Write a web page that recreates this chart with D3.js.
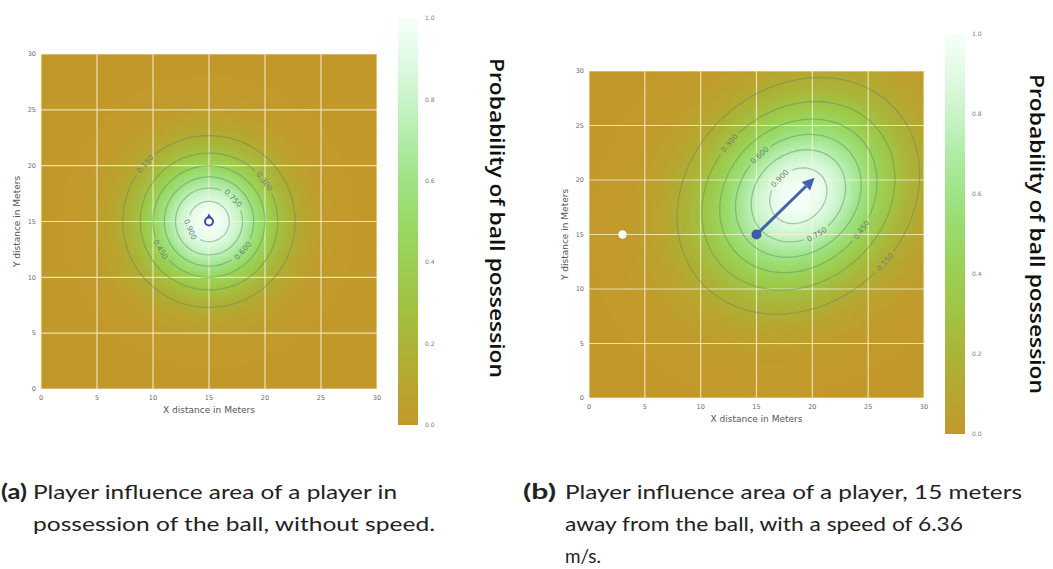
<!DOCTYPE html>
<html>
<head>
<meta charset="utf-8">
<script src="https://cdn.jsdelivr.net/npm/d3@7"></script>
<style>
  body { margin: 0; background: #ffffff; }
  svg { display: block; }
</style>
</head>
<body>
<svg id="fig" width="1053" height="569"></svg>
<script>
// ---- shared values ----
const axisTicks = [0, 5, 10, 15, 20, 25, 30];
const colorbarTicks = [0.0, 0.2, 0.4, 0.6, 0.8, 1.0];
const contourLevels = [0.15, 0.30, 0.45, 0.60, 0.75, 0.90];
const colorStops = [0.0, 0.1, 0.2, 0.3, 0.4, 0.5, 0.6, 0.7, 0.8, 0.9, 1.0];
const colorValues = ["#c3982b", "#b7a630", "#aab438", "#a1c343", "#9bcf52",
                     "#99da68", "#9fe284", "#b0eca6", "#c9f4c8", "#e2fae4", "#f6fff9"];

// ---- panel (a): player in possession, no speed ----
const playerA = [15, 15];
const meanA = [15, 15];
const sigmaA = [3.95, 3.95];
const tiltA = 0;
const labelAnglesA = [138, 36, 210, 319, 44, 203];   // one per contour level

// ---- panel (b): player 12 m from the ball, running diagonally ----
const playerB = [15, 15];
const arrowEndB = [20.2, 20.2];
const ballB = [3, 15];
const meanB = [18.75, 18.55];
const sigmaB = [6.05, 5.05];
const tiltB = 45;
const labelAnglesB = [322, 142, 331, 133, 295, 136];

const captionA = ["Player influence area of a player in", "possession of the ball, without speed."];
const captionB = ["Player influence area of a player, 15 meters", "away from the ball, with a speed of 6.36", "m/s."];
const colorbarTitle = "Probability of ball possession";

const svg = d3.select("#fig");
const defs = svg.append("defs");

const color = d3.scaleLinear().domain(colorStops).range(colorValues)
  .interpolate(d3.interpolateRgb).clamp(true);

// Bivariate normal influence surface, scaled to 1 at its mean
function influence(mean, sigma, tiltDeg) {
  const t = tiltDeg * Math.PI / 180, c = Math.cos(t), s = Math.sin(t);
  return (x, y) => {
    const dx = x - mean[0], dy = y - mean[1];
    const u = dx * c + dy * s, v = -dx * s + dy * c;
    return Math.exp(-0.5 * (u * u / (sigma[0] * sigma[0]) + v * v / (sigma[1] * sigma[1])));
  };
}

// point on a contour level along a direction from the mean
function contourPoint(mean, sigma, tiltDeg, level, angDeg) {
  const a = angDeg * Math.PI / 180, t = tiltDeg * Math.PI / 180;
  const ux = Math.cos(a), uy = Math.sin(a);
  const u = ux * Math.cos(t) + uy * Math.sin(t), v = -ux * Math.sin(t) + uy * Math.cos(t);
  const m = u * u / (sigma[0] * sigma[0]) + v * v / (sigma[1] * sigma[1]);
  const r = Math.sqrt(-2 * Math.log(level) / m);
  return [mean[0] + r * ux, mean[1] + r * uy];
}

function drawPanel(cfg) {
  const x = d3.scaleLinear().domain([0, 30]).range([cfg.left, cfg.right]);
  const y = d3.scaleLinear().domain([0, 30]).range([cfg.bottom, cfg.top]);
  const f = influence(cfg.mean, cfg.sigma, cfg.tilt);
  const g = svg.append("g");

  const clipId = cfg.id + "-clip";
  defs.append("clipPath").attr("id", clipId).append("rect")
    .attr("x", cfg.left).attr("y", cfg.top)
    .attr("width", cfg.right - cfg.left).attr("height", cfg.bottom - cfg.top);

  // heat map cells
  const n = 120, step = 30 / n;
  const cells = [];
  const values = new Float64Array(n * n);
  for (let j = 0; j < n; j++) {
    for (let i = 0; i < n; i++) {
      const v = f((i + 0.5) * step, (j + 0.5) * step);
      values[i + j * n] = v;
      cells.push({ i, j, v });
    }
  }
  const cw = x(step) - x(0), ch = y(0) - y(step);
  g.append("g").attr("clip-path", `url(#${clipId})`)
    .selectAll("rect").data(cells).join("rect")
    .attr("x", d => x(d.i * step))
    .attr("y", d => y((d.j + 1) * step))
    .attr("width", cw + 0.6).attr("height", ch + 0.6)
    .attr("fill", d => color(d.v))
    .attr("shape-rendering", "crispEdges");

  // grid
  const grid = g.append("g").attr("stroke", "#fbf5d8").attr("stroke-opacity", 0.75)
    .attr("stroke-width", 1.2);
  grid.selectAll("line.v").data(axisTicks).join("line").attr("class", "v")
    .attr("x1", d => x(d)).attr("x2", d => x(d)).attr("y1", cfg.top).attr("y2", cfg.bottom);
  grid.selectAll("line.h").data(axisTicks).join("line").attr("class", "h")
    .attr("y1", d => y(d)).attr("y2", d => y(d)).attr("x1", cfg.left).attr("x2", cfg.right);

  // contour label placement
  const labels = contourLevels.map((lv, k) => {
    const ang = cfg.labelAngles[k];
    const p = contourPoint(cfg.mean, cfg.sigma, cfg.tilt, lv, ang);
    const p1 = contourPoint(cfg.mean, cfg.sigma, cfg.tilt, lv, ang - 1);
    const p2 = contourPoint(cfg.mean, cfg.sigma, cfg.tilt, lv, ang + 1);
    let rot = Math.atan2(y(p2[1]) - y(p1[1]), x(p2[0]) - x(p1[0])) * 180 / Math.PI;
    if (rot > 90) rot -= 180;
    if (rot <= -90) rot += 180;
    return { lv, px: x(p[0]), py: y(p[1]), rot };
  });

  const maskId = cfg.id + "-mask";
  const mask = defs.append("mask").attr("id", maskId)
    .attr("maskUnits", "userSpaceOnUse")
    .attr("x", 0).attr("y", 0).attr("width", 1053).attr("height", 569);
  mask.append("rect").attr("width", 1053).attr("height", 569).attr("fill", "#fff");
  mask.selectAll("rect.gap").data(labels).join("rect").attr("class", "gap")
    .attr("x", -14).attr("y", -5).attr("width", 28).attr("height", 10).attr("fill", "#000")
    .attr("transform", d => `translate(${d.px},${d.py}) rotate(${d.rot})`);

  // contour lines
  const contours = d3.contours().size([n, n]).thresholds(contourLevels)(values);
  const proj = d3.geoTransform({
    point(px, py) { this.stream.point(x(px * step), y(py * step)); }
  });
  const path = d3.geoPath(proj);
  g.append("g").attr("clip-path", `url(#${clipId})`)
    .append("g").attr("mask", `url(#${maskId})`)
    .selectAll("path").data(contours).join("path")
    .attr("d", path)
    .attr("fill", "none")
    .attr("stroke", "#5a8a60").attr("stroke-opacity", 0.45)
    .attr("stroke-width", 1.3);

  g.append("g").selectAll("text").data(labels).join("text")
    .attr("transform", d => `translate(${d.px},${d.py}) rotate(${d.rot})`)
    .attr("text-anchor", "middle").attr("dy", "0.35em")
    .attr("font-family", "DejaVu Sans, sans-serif").attr("font-size", 7.5)
    .attr("fill", "#6a7d70")
    .text(d => d.lv.toFixed(3));

  // tick labels
  const tickFont = { fam: "DejaVu Sans, sans-serif", size: 6.5, fill: "#6a6a6a" };
  g.append("g").selectAll("text").data(axisTicks).join("text")
    .attr("x", d => x(d)).attr("y", cfg.bottom + 11)
    .attr("text-anchor", "middle")
    .attr("font-family", tickFont.fam).attr("font-size", tickFont.size).attr("fill", tickFont.fill)
    .text(d => d);
  g.append("g").selectAll("text").data(axisTicks).join("text")
    .attr("x", cfg.left - 5).attr("y", d => y(d)).attr("dy", "0.35em")
    .attr("text-anchor", "end")
    .attr("font-family", tickFont.fam).attr("font-size", tickFont.size).attr("fill", tickFont.fill)
    .text(d => d);

  // axis titles
  g.append("text")
    .attr("x", (cfg.left + cfg.right) / 2).attr("y", cfg.bottom + 24)
    .attr("text-anchor", "middle")
    .attr("font-family", "DejaVu Sans, sans-serif").attr("font-size", 9).attr("fill", "#555")
    .text("X distance in Meters");
  g.append("text")
    .attr("transform", `translate(${cfg.left - 21},${(cfg.top + cfg.bottom) / 2}) rotate(-90)`)
    .attr("text-anchor", "middle")
    .attr("font-family", "DejaVu Sans, sans-serif").attr("font-size", 9).attr("fill", "#555")
    .text("Y distance in Meters");

  // colour bar
  const cb = d3.scaleLinear().domain([0, 1]).range([cfg.cbBottom, cfg.cbTop]);
  const gradId = cfg.id + "-grad";
  const grad = defs.append("linearGradient").attr("id", gradId)
    .attr("x1", 0).attr("y1", 1).attr("x2", 0).attr("y2", 0);
  grad.selectAll("stop").data(d3.range(0, 1.0001, 0.05)).join("stop")
    .attr("offset", d => d).attr("stop-color", d => color(d));
  g.append("rect")
    .attr("x", cfg.cbLeft).attr("y", cb(1))
    .attr("width", 20).attr("height", cb(0) - cb(1))
    .attr("fill", `url(#${gradId})`);
  g.append("g").selectAll("text").data(colorbarTicks).join("text")
    .attr("x", cfg.cbLeft + 27).attr("y", d => cb(d)).attr("dy", "0.35em")
    .attr("font-family", tickFont.fam).attr("font-size", 6).attr("fill", "#777")
    .text(d => d.toFixed(1));
  g.append("text")
    .attr("transform", `translate(${cfg.titleX},${cfg.titleY}) rotate(90)`)
    .attr("text-anchor", "middle").attr("dy", "0.35em")
    .attr("font-family", "Open Sans, sans-serif").attr("font-weight", 600)
    .attr("font-size", 19).attr("fill", "#111")
    .attr("textLength", 320).attr("lengthAdjust", "spacingAndGlyphs")
    .text(colorbarTitle);

  return { g, x, y };
}

// ---- panel (a) ----
const pa = drawPanel({
  id: "a", left: 41, right: 377, top: 54, bottom: 389,
  mean: meanA, sigma: sigmaA, tilt: tiltA, labelAngles: labelAnglesA,
  cbLeft: 398, cbTop: 18, cbBottom: 425, titleX: 497, titleY: 218
});
{
  const cx = pa.x(playerA[0]), cy = pa.y(playerA[1]);
  pa.g.append("path")
    .attr("d", `M${cx - 3.2},${cy - 2.5} L${cx},${cy - 8} L${cx + 3.2},${cy - 2.5} Z`)
    .attr("fill", "#3b4fa3");
  pa.g.append("circle").attr("cx", cx).attr("cy", cy).attr("r", 4)
    .attr("fill", "#f4fbff").attr("stroke", "#3b4fa3").attr("stroke-width", 2);
}

// ---- panel (b) ----
const pb = drawPanel({
  id: "b", left: 589, right: 924, top: 71, bottom: 398,
  mean: meanB, sigma: sigmaB, tilt: tiltB, labelAngles: labelAnglesB,
  cbLeft: 945, cbTop: 34, cbBottom: 434, titleX: 1037, titleY: 234
});
{
  const x0 = pb.x(playerB[0]), y0 = pb.y(playerB[1]);
  const x1 = pb.x(arrowEndB[0]), y1 = pb.y(arrowEndB[1]);
  const ang = Math.atan2(y1 - y0, x1 - x0);
  const headLen = 12, headW = 6;
  const bx = x1 - headLen * Math.cos(ang), by = y1 - headLen * Math.sin(ang);
  pb.g.append("line").attr("x1", x0).attr("y1", y0).attr("x2", bx).attr("y2", by)
    .attr("stroke", "#4463ae").attr("stroke-width", 3);
  pb.g.append("path")
    .attr("d", `M${x1},${y1} L${bx - headW * Math.sin(ang)},${by + headW * Math.cos(ang)} L${bx + headW * Math.sin(ang)},${by - headW * Math.cos(ang)} Z`)
    .attr("fill", "#4463ae");
  pb.g.append("circle").attr("cx", x0).attr("cy", y0).attr("r", 5).attr("fill", "#3f5ca8");
  pb.g.append("circle").attr("cx", pb.x(ballB[0])).attr("cy", pb.y(ballB[1])).attr("r", 4.2)
    .attr("fill", "#ffffff");
}

// ---- captions ----
const capFont = "Lato, 'Open Sans', sans-serif";
function caption(tag, tagX, tagEnd, textX, lines, widths) {
  svg.append("text").attr("x", tagX).attr("y", 499)
    .attr("font-family", capFont).attr("font-weight", 700).attr("font-size", 20).attr("fill", "#222")
    .attr("textLength", tagEnd - tagX).attr("lengthAdjust", "spacingAndGlyphs")
    .text(tag);
  svg.append("g").selectAll("text").data(lines).join("text")
    .attr("x", textX).attr("y", (d, i) => 499 + i * 32)
    .attr("font-family", capFont).attr("font-size", 20).attr("fill", "#222")
    .attr("textLength", (d, i) => widths[i]).attr("lengthAdjust", "spacingAndGlyphs")
    .text(d => d);
}
caption("(a)", 1, 27, 33, captionA, [364, 402]);
caption("(b)", 523, 556, 565, captionB, [457, 398, 36]);
</script>
</body>
</html>
